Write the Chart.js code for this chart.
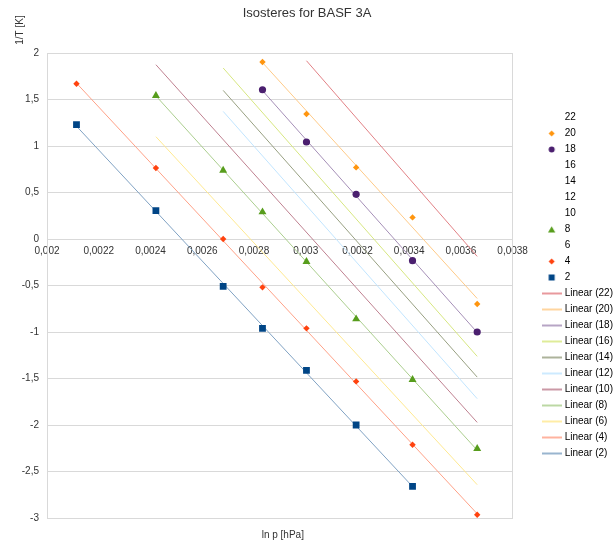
<!DOCTYPE html>
<html>
<head>
<meta charset="utf-8">
<title>Isosteres for BASF 3A</title>
<script src="https://cdn.jsdelivr.net/npm/chart.js@4.4.1/dist/chart.umd.min.js"></script>
<style>
  html, body { margin: 0; padding: 0; background: #fff; }
  #wrap { width: 614px; height: 542px; }
</style>
</head>
<body>
<div id="wrap"><canvas id="isoChart"></canvas></div>
<script>
// loadings shown in the legend, top to bottom
const loadings = ['22', '20', '18', '16', '14', '12', '10', '8', '6', '4', '2'];

// measured points per loading (x = axis value, y = axis value)
// series without visible markers only keep the ends of their trend line
const x22 = [0.003003, 0.003663];
const y22 = [1.917, -0.187];
const x20 = [0.002833, 0.003003, 0.003195, 0.003413, 0.003663];
const y20 = [1.903, 1.344, 0.770, 0.232, -0.699];
const x18 = [0.002833, 0.003003, 0.003195, 0.003413, 0.003663];
const y18 = [1.605, 1.043, 0.480, -0.233, -1.000];
const x16 = [0.002681, 0.003663];
const y16 = [1.839, -1.262];
const x14 = [0.002681, 0.003663];
const y14 = [1.598, -1.485];
const x12 = [0.002681, 0.003663];
const y12 = [1.372, -1.717];
const x10 = [0.002421, 0.003663];
const y10 = [1.874, -1.972];
const x8 = [0.002421, 0.002681, 0.002833, 0.003003, 0.003195, 0.003413, 0.003663];
const y8 = [1.541, 0.738, 0.290, -0.244, -0.860, -1.513, -2.255];
const x6 = [0.002421, 0.003663];
const y6 = [1.100, -2.642];
const x4 = [0.002114, 0.002421, 0.002681, 0.002833, 0.003003, 0.003195, 0.003413, 0.003663];
const y4 = [1.670, 0.763, 0.000, -0.520, -0.961, -1.531, -2.212, -2.965];
const x2 = [0.002114, 0.002421, 0.002681, 0.002833, 0.003003, 0.003195, 0.003413];
const y2 = [1.229, 0.304, -0.510, -0.961, -1.413, -2.000, -2.660];

const seriesX = [x22, x20, x18, x16, x14, x12, x10, x8, x6, x4, x2];
const seriesY = [y22, y20, y18, y16, y14, y12, y10, y8, y6, y4, y2];

// axis ranges
const xMin = 0.002, xMax = 0.0038, xStep = 0.0002;
const yMin = -3, yMax = 2, yStep = 0.5;

// look of each loading (same order as loadings)
const colors = ['#c5000b', '#ff950e', '#4b1f6f', '#aecf00', '#314004', '#83caff',
                '#7e0021', '#579d1c', '#ffd320', '#ff420e', '#004586'];
const markers = [null, 'rectRot', 'circle', null, null, null, null, 'triangle', null, 'rectRot', 'rect'];
const markerSize = { rectRot: 3.2, circle: 3.6, triangle: 4.6, rect: 4.8 };

const FONT = '"Liberation Sans", Arial, Helvetica, sans-serif';
Chart.defaults.font.family = FONT;
Chart.defaults.font.size = 10;
Chart.defaults.color = '#333';

// series colour mixed towards white (trend lines)
function pale(hex, k) {
    const n = parseInt(hex.slice(1), 16);
    const m = c => Math.round(c + (255 - c) * k);
    return `rgb(${m((n >> 16) & 255)}, ${m((n >> 8) & 255)}, ${m(n & 255)})`;
}

// least squares line over the range of the series
function trend(xs, ys) {
    const n = xs.length;
    const mx = xs.reduce((s, v) => s + v, 0) / n;
    const my = ys.reduce((s, v) => s + v, 0) / n;
    let sxy = 0, sxx = 0;
    for (let i = 0; i < n; i++) {
        sxy += (xs[i] - mx) * (ys[i] - my);
        sxx += (xs[i] - mx) * (xs[i] - mx);
    }
    const b = sxy / sxx;
    const a = my - b * mx;
    const x0 = Math.min(...xs), x1 = Math.max(...xs);
    return [{ x: x0, y: a + b * x0 }, { x: x1, y: a + b * x1 }];
}

// small pictures for the legend keys
function legendIcon(kind, color) {
    const c = document.createElement('canvas');
    const g = c.getContext('2d');
    if (kind === 'line') {
        c.width = 20; c.height = 4;
        g.fillStyle = color;
        g.fillRect(0, 1, 20, 2);
        return c;
    }
    c.width = 11; c.height = 11;
    g.fillStyle = color;
    g.beginPath();
    if (kind === 'rectRot') {
        g.moveTo(5.5, 2.5); g.lineTo(8.5, 5.5); g.lineTo(5.5, 8.5); g.lineTo(2.5, 5.5);
    } else if (kind === 'circle') {
        g.arc(5.5, 5.5, 3, 0, Math.PI * 2);
    } else if (kind === 'triangle') {
        g.moveTo(5.5, 2.3); g.lineTo(9.1, 8.5); g.lineTo(1.9, 8.5);
    } else if (kind === 'rect') {
        g.rect(2.5, 2.5, 6, 6);
    }
    g.closePath();
    if (kind) g.fill();
    return c;
}

const datasets = [];
loadings.forEach((name, i) => {
    const m = markers[i];
    datasets.push({
        label: name,
        data: seriesX[i].map((x, j) => ({ x: x, y: seriesY[i][j] })),
        backgroundColor: colors[i],
        borderColor: colors[i],
        pointStyle: m || 'circle',
        pointRadius: m ? markerSize[m] : 0,
        pointBorderWidth: 0,
        showLine: false,
        order: 0,
        icon: legendIcon(m, colors[i])
    });
});
loadings.forEach((name, i) => {
    datasets.push({
        label: 'Linear (' + name + ')',
        data: trend(seriesX[i], seriesY[i]),
        borderColor: pale(colors[i], 0.5),
        borderWidth: 1,
        pointRadius: 0,
        showLine: true,
        order: 1,
        icon: legendIcon('line', pale(colors[i], 0.6))
    });
});

const fmt = v => String(+Number(v).toFixed(4)).replace('.', ',');

const axisTitles = {
    id: 'axisTitles',
    afterDraw(chart) {
        const { ctx, chartArea } = chart;
        ctx.save();
        ctx.font = '10px ' + FONT;
        ctx.fillStyle = '#333';
        ctx.textAlign = 'center';
        ctx.textBaseline = 'middle';
        ctx.fillText('ln p [hPa]', (chartArea.left + chartArea.right) / 2 + 3, chartArea.bottom + 17);
        ctx.translate(20, 30);
        ctx.rotate(-Math.PI / 2);
        ctx.fillText('1/T [K]', 0, 0);
        ctx.restore();
    }
};

// pull the legend a little to the right edge
const legendShift = {
    id: 'legendShift',
    beforeInit(chart) {
        const fit = chart.legend.fit;
        chart.legend.fit = function () {
            fit.call(this);
            this.width -= 9;
        };
    }
};

const canvas = document.getElementById('isoChart');
new Chart(canvas.getContext('2d'), {
    type: 'scatter',
    data: { datasets: datasets },
    plugins: [axisTitles, legendShift],
    options: {
        responsive: true,
        maintainAspectRatio: false,
        animation: false,
        events: [],
        layout: { padding: { left: 0, right: 0, top: 0, bottom: 24 } },
        scales: {
            x: {
                type: 'linear',
                position: { y: 0 },
                min: xMin,
                max: xMax,
                grid: { display: false, drawTicks: false },
                border: { display: false },
                ticks: { stepSize: xStep, padding: 6, maxRotation: 0, autoSkip: false, callback: fmt }
            },
            y: {
                type: 'linear',
                position: 'left',
                min: yMin,
                max: yMax,
                grid: { color: '#d9d9d9', drawTicks: false },
                border: { color: '#d9d9d9' },
                ticks: { stepSize: yStep, padding: 8, callback: fmt },
                afterFit(scale) { scale.width = 47; }
            },
            yRight: {
                type: 'linear',
                position: 'right',
                grid: { display: false, drawTicks: false },
                border: { display: true, color: '#d9d9d9' },
                ticks: { display: false },
                afterFit(scale) { scale.width = 25; }
            }
        },
        plugins: {
            title: {
                display: true,
                text: 'Isosteres for BASF 3A',
                color: '#333',
                font: { size: 13, weight: 'normal' },
                padding: { top: 6, bottom: 31.4 }
            },
            legend: {
                display: true,
                position: 'right',
                fullSize: false,
                labels: {
                    usePointStyle: true,
                    pointStyleWidth: 16,
                    padding: 6,
                    color: '#333',
                    font: { size: 10 },
                    generateLabels(chart) {
                        return chart.data.datasets.map((ds, i) => ({
                            text: ds.label,
                            pointStyle: ds.icon,
                            fillStyle: 'rgba(0,0,0,0)',
                            strokeStyle: 'rgba(0,0,0,0)',
                            lineWidth: 0,
                            hidden: false,
                            datasetIndex: i
                        }));
                    }
                }
            },
            tooltip: { enabled: false }
        }
    }
});
</script>
</body>
</html>
